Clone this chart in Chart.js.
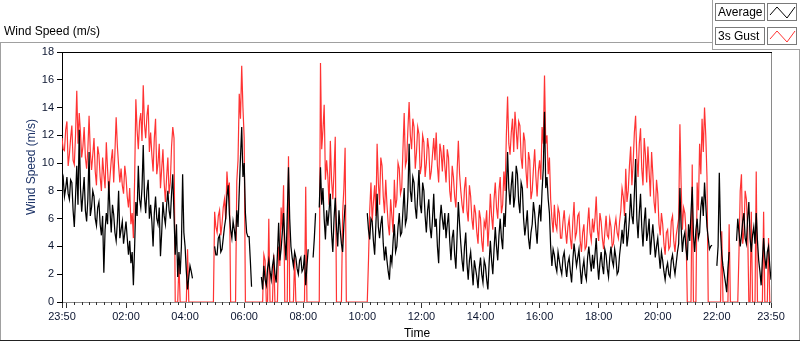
<!DOCTYPE html>
<html>
<head>
<meta charset="utf-8">
<script src="https://cdn.jsdelivr.net/npm/chart.js@4.4.0/dist/chart.umd.min.js"></script>
<style>
html, body { margin: 0; padding: 0; background: #fff; }
#wrap { position: relative; width: 800px; height: 342px; overflow: hidden; font-family: "Liberation Sans", Arial, sans-serif; color: #000; }
#chart { position: absolute; left: 0; top: 0; }
.line { position: absolute; background: #a0a0a0; }
#title { position: absolute; left: 4px; top: 24px; font-size: 12px; white-space: nowrap; }
#ytitle { position: absolute; left: 31px; top: 167px; font-size: 12px; white-space: nowrap; color: #1e3468;
  transform: translate(-50%, -50%) rotate(-90deg); }
#xtitle { position: absolute; left: 417px; top: 333px; font-size: 12px; transform: translate(-50%, -50%); }
.lgText { position: absolute; left: 715px; width: 46px; height: 16px; border: 1px solid #7a7a7a; font-size: 12px; line-height: 16px; padding-left: 2px; box-sizing: content-box; white-space: nowrap; }
.lgSym { position: absolute; left: 767px; width: 28px; height: 16px; border: 1px solid #7a7a7a; }
.lgSym svg { position: absolute; left: 0; top: 0; }
</style>
</head>
<body>
<div id="wrap">
  <canvas id="chart" width="800" height="342"></canvas>
  <div class="line" style="left:0;top:42px;width:712px;height:1px;"></div>
  <div class="line" style="left:0;top:42px;width:1px;height:298px;"></div>
  <div class="line" style="left:712px;top:0;width:1px;height:50px;"></div>
  <div class="line" style="left:712px;top:49px;width:88px;height:1px;"></div>
  <div class="line" style="left:799px;top:49px;width:1px;height:292px;"></div>
  <div class="line" style="left:0;top:340px;width:800px;height:1px;background:#222;"></div>
  <div id="title">Wind Speed (m/s)</div>
  <div id="ytitle">Wind Speed (m/s)</div>
  <div id="xtitle">Time</div>
  <div class="lgText" style="top:3px;">Average</div>
  <div class="lgSym" style="top:3px;"><svg width="28" height="16"><polyline points="2,11 9,3 19,14 27,3" fill="none" stroke="#000" stroke-width="1"/></svg></div>
  <div class="lgText" style="top:27px;">3s Gust</div>
  <div class="lgSym" style="top:27px;"><svg width="28" height="16"><polyline points="2,11 9,3 19,14 27,3" fill="none" stroke="#ff3333" stroke-width="1"/></svg></div>
</div>
<script>
// samples every 2.5 minutes, starting 23:50
const stepMinutes = 2.5;

// 3s gust (m/s), one row per hour from 23:50
const gust = [
  11.8, 11.0, 10.9, 12.4, 13.0, 9.8, 10.6, 11.8, 12.7, 10.2, 9.9, 12.0, 15.2, 11.4, 13.6, 12.2, 10.4, 11.2, 12.6, 10.4, 9.6, 11.0, 13.4, 10.8,
  9.5, 10.6, 11.8, 9.4, 8.4, 11.2, 10.6, 9.0, 8.0, 10.4, 9.2, 8.2, 11.5, 9.6, 7.8, 9.0, 10.2, 11.0, 8.6, 10.8, 13.3, 11.2, 9.8, 8.6,
  9.6, 8.4, 7.8, 9.8, 9.0, 7.6, 6.8, 8.2, 5.6, 6.4, 4.6, 8.8, 14.6, 12.4, 11.0, 13.0, 13.6, 11.6, 15.6, 12.8, 11.8, 13.4, 14.2, 10.8,
  12.2, 10.6, 9.4, 11.8, 13.2, 9.2, 10.0, 11.4, 8.2, 9.6, 11.0, 8.6, 7.2, 9.0, 10.4, 7.8, 8.6, 11.2, 12.6, 11.8, 0, 0, 0, 2.8,
  0, 0, 0, 0, 0, 0, 3.8, 0, 0, 0, 0, 0, 0, 0, 0, 0, 0, 0, 0, 0, 0, 0, 0, 0,
  0, 0, 0, 0, 6.5, 5.4, 5.0, 6.2, 6.6, 4.8, 5.6, 6.8, 7.4, 6.0, 9.4, 8.0, 8.6, 0, 0, 0, 0, 0, 8.7, 10.2,
  15.0, 13.2, 17.0, 14.0, 11.8, 0, 0, 0, 0, 0, 0, 0, 0, 0, 0, 0, 0, 0, 0, 0, 3.4, 3.0, 0, 0,
  6.0, 0, 0, 0, 3.4, 0, 0, 0, 4.0, 2.6, 6.8, 5.2, 8.4, 0, 0, 0, 10.5, 0, 0, 0, 0, 3.2, 0, 0,
  0, 0, 0, 0, 0, 0, 8.3, 0, 0, 0, 0, 0, 0, 0, 0, 0, 0, 0, 17.2, 11.0, 12.4, 14.2, 8.8, 10.2,
  9.0, 7.0, 11.6, 8.8, 7.4, 9.4, 11.9, 0, 0, 0, 0, 0, 6.4, 8.2, 11.1, 0, 0, 0, 0, 0, 0, 0, 0, 0,
  0, 0, 0, 0, 0, 0, 0, 0, 0, 3.0, 6.6, 8.6, 5.8, 7.2, 8.4, 6.2, 11.4, 8.6, 7.0, 10.4, 9.8, 7.6, 6.4, 8.8,
  7.0, 5.6, 4.8, 7.4, 6.2, 5.0, 8.8, 6.8, 7.4, 10.0, 9.6, 7.8, 8.2, 11.0, 13.6, 9.8, 10.2, 12.4, 14.4, 12.0, 11.0, 13.2, 12.6, 9.6,
  10.8, 12.6, 12.1, 9.2, 9.8, 12.0, 11.5, 9.0, 10.0, 11.8, 11.0, 8.8, 9.4, 10.6, 11.8, 10.2, 12.2, 9.8, 8.6, 11.4, 10.8, 9.4, 11.3, 9.8,
  8.6, 11.0, 10.4, 8.0, 7.2, 9.8, 9.0, 7.6, 6.8, 9.4, 11.6, 9.2, 8.0, 7.0, 6.4, 8.2, 9.0, 6.6, 5.8, 8.4, 7.6, 6.0, 5.2, 7.0,
  6.4, 5.0, 4.2, 6.6, 6.0, 4.4, 3.6, 5.8, 5.4, 6.6, 4.0, 5.6, 7.8, 6.2, 5.2, 7.4, 8.6, 6.8, 6.0, 8.0, 9.0, 6.4, 7.0, 9.4,
  8.0, 12.0, 14.8, 11.4, 10.6, 12.2, 13.2, 10.8, 13.7, 12.4, 11.0, 13.0, 12.7, 10.4, 9.6, 12.2, 11.6, 9.4, 8.2, 10.8, 10.2, 7.4, 8.0, 9.6,
  11.0, 9.0, 7.6, 9.4, 10.2, 8.8, 12.6, 11.4, 16.3, 11.4, 12.0, 9.2, 10.4, 7.4, 6.0, 5.0, 7.0, 5.6, 5.2, 6.8, 6.4, 4.6, 4.6, 5.8,
  6.6, 5.2, 4.2, 5.4, 6.0, 4.6, 3.8, 5.8, 7.2, 4.6, 5.0, 6.2, 6.4, 4.4, 3.6, 5.0, 5.6, 3.8, 4.0, 5.6, 6.8, 5.0, 4.4, 6.0,
  5.0, 6.0, 7.6, 5.2, 4.4, 6.4, 5.8, 4.6, 3.8, 5.0, 6.2, 4.8, 4.6, 6.0, 5.4, 4.0, 4.2, 5.4, 6.0, 5.0, 4.6, 5.8, 6.6, 8.2,
  7.6, 6.2, 9.6, 7.2, 8.0, 9.8, 11.2, 8.4, 10.0, 12.2, 13.4, 10.4, 9.0, 11.4, 12.5, 9.6, 8.4, 11.8, 10.6, 8.6, 11.2, 9.4, 7.6, 10.8,
  9.2, 7.2, 6.4, 8.8, 7.8, 5.6, 4.8, 6.4, 5.6, 4.2, 3.4, 5.0, 5.2, 3.8, 4.0, 5.8, 6.2, 4.4, 3.6, 4.8, 5.4, 6.0, 12.8, 8.4,
  5.2, 6.8, 6.4, 5.0, 0, 0, 0, 0, 9.9, 0, 0, 0, 8.6, 6.6, 11.4, 9.2, 13.2, 10.8, 14.0, 12.0, 9.0, 0, 0, 0,
  0, 0, 0, 0, 0, 0, 0, 0, 5.1, 0, 0, 0, 0, 0, 5.6, 0, 0, 0, 0, 0, 0, 0, 3.6, 8.0,
  9.2, 4.2, 5.0, 8.0, 7.4, 5.4, 0, 0, 6.5, 0, 0, 0, 9.4, 0, 0, 0, 0, 0, 6.5, 0, 0, 0, 4.6, 0,
  0
];

// average (m/s), null where no reading
const average = [
  8.4, 8.9, 7.6, 8.2, 9.0, 7.8, 7.4, 8.8, 8.6, 6.6, 5.4, 7.6, 9.8, 7.0, 12.4, 8.2, 6.5, 7.8, 9.0, 6.6, 5.8, 7.4, 10.8, 6.2,
  6.8, 8.0, 7.6, 6.0, 5.5, 6.8, 7.2, 5.6, 4.8, 6.2, 2.1, 5.2, 6.4, 5.6, 8.7, 6.6, 5.0, 7.0, 6.3, 5.0, 4.4, 5.8, 8.0, 4.6,
  5.2, 5.8, 4.2, 5.0, 5.8, 4.6, 3.4, 4.4, 2.8, 3.6, 1.2, 4.0, 7.2, 6.2, 9.8, 7.4, 6.8, 8.2, 11.3, 7.6, 6.4, 8.0, 8.8, 6.0,
  7.0, 5.8, 4.0, 6.4, 7.6, 6.0, 5.6, 6.8, 3.3, 5.0, 7.2, 6.2, 5.6, 7.0, 8.0, 6.6, 6.0, 7.8, 9.2, 6.2, 3.4, 5.6, 1.8, 3.6,
  2.0, 4.0, 9.2, 5.0, 4.0, 2.2, 0.9, 1.8, 2.6, 2.2, 1.7, null, null, null, null, null, null, null, null, null, null, null, null, null,
  null, null, null, null, 4.0, 3.4, 3.4, 4.6, 4.8, 3.6, 3.8, 4.6, 5.4, 6.0, 7.6, 8.4, 6.3, 5.2, 4.6, 5.8, 5.2, 4.4, 6.6, 5.4,
  8.0, 10.4, 12.6, 9.0, 10.0, 6.4, 5.0, 4.7, 4.7, 3.0, 1.1, null, null, null, null, null, null, null, 1.8, 0.9, 2.6, 1.6, 1.2, 2.4,
  3.0, 2.2, 1.6, 2.6, 3.2, 2.0, 1.4, 3.4, 5.7, 3.0, 3.8, 5.0, 6.4, 4.4, 3.0, 6.2, 9.7, 6.0, 4.0, 3.2, 2.6, 3.6, 3.2, 2.4,
  2.0, 3.0, 3.2, 2.2, 2.4, 3.4, 1.2, 2.6, 3.8, null, null, null, 3.2, 4.6, 6.4, null, null, 6.8, 9.7, 7.0, 8.2, 6.0, 4.5, 6.6,
  5.5, 6.6, 7.8, 5.0, 3.6, 6.0, 7.5, 5.4, 4.0, 6.6, 5.2, 4.2, 3.6, 5.6, 7.0, null, null, null, null, null, null, null, null, null,
  null, null, null, null, null, null, null, null, 6.4, 5.2, 4.5, 6.0, 5.8, 4.4, 3.4, 5.6, 7.8, 5.4, 4.6, 5.6, 6.2, 4.2, 3.0, 4.0,
  3.0, 2.2, 1.6, 3.4, 2.8, 4.4, 5.6, 3.6, 4.0, 5.4, 6.4, 4.8, 5.0, 6.6, 8.2, 5.6, 6.0, 7.6, 11.4, 8.0, 7.2, 9.0, 8.6, 6.8,
  6.0, 7.8, 9.5, 7.0, 6.4, 8.6, 8.0, 6.2, 5.0, 6.6, 7.4, 5.4, 4.6, 6.0, 7.8, 5.4, 6.0, 4.0, 2.8, 5.8, 7.0, 6.0, 5.2, 6.4,
  4.6, 5.6, 6.4, 4.4, 3.0, 4.6, 5.2, 3.4, 2.4, 4.8, 7.2, 5.6, 4.2, 3.0, 2.2, 4.0, 5.0, 2.8, 1.6, 3.0, 3.6, 2.4, 1.2, 3.0,
  2.4, 1.8, 1.0, 2.4, 3.2, 2.0, 1.4, 3.0, 2.6, 1.6, 0.9, 2.8, 4.4, 3.0, 2.0, 3.8, 5.4, 4.0, 3.0, 4.8, 6.0, 4.6, 3.8, 6.4,
  5.4, 8.0, 10.8, 8.2, 7.0, 8.4, 9.4, 6.8, 7.6, 9.8, 9.2, 7.2, 6.4, 8.6, 8.2, 6.0, 4.8, 5.6, 6.6, 4.6, 3.8, 5.0, 5.6, 7.2,
  6.4, 5.2, 4.2, 6.0, 7.0, 5.8, 8.0, 9.6, 13.7, 8.2, 9.0, 7.4, 6.4, 4.0, 2.6, 3.8, 3.4, 2.6, 2.2, 3.6, 3.0, 2.4, 2.0, 3.2,
  3.6, 2.6, 1.8, 2.8, 3.2, 2.2, 1.4, 3.0, 4.2, 3.4, 2.6, 3.2, 3.8, 2.4, 1.3, 2.4, 3.0, 2.0, 1.6, 3.2, 4.0, 3.0, 2.2, 3.4,
  2.4, 3.4, 4.6, 2.8, 1.6, 2.8, 3.6, 2.6, 2.0, 3.8, 3.4, 2.4, 1.8, 3.2, 4.0, 3.0, 2.6, 3.8, 3.2, 2.0, 2.2, 3.4, 4.2, 5.2,
  4.2, 5.6, 6.4, 4.0, 4.8, 6.0, 7.8, 6.2, 5.6, 7.8, 10.3, 6.0, 4.6, 6.4, 7.8, 5.4, 4.0, 5.8, 6.8, 4.4, 5.0, 6.0, 3.4, 4.6,
  5.6, 4.4, 3.2, 4.0, 4.6, 3.4, 2.4, 3.6, 3.0, 2.2, 1.6, 2.4, 2.8, 2.0, 1.8, 3.0, 3.4, 2.6, 2.0, 2.8, 3.6, 4.2, 8.2, 5.4,
  3.6, 4.6, 5.0, 3.8, 3.0, 5.6, 4.4, 6.4, 8.3, 4.8, 3.6, 5.2, 6.0, 4.6, 5.0, 6.8, 7.6, 6.2, 8.6, 7.0, 5.4, 4.6, 3.8, 4.0,
  4.1, null, null, null, 2.6, 4.0, 9.3, 5.0, 3.4, 2.6, 2.0, 1.4, 0.7, 2.4, 3.6, null, null, null, null, null, 4.4, 6.0, 5.0, 4.0,
  4.8, 5.8, 6.4, 4.6, 4.2, 6.0, 7.2, 4.6, 3.6, 4.8, 5.4, 4.2, 6.4, 4.4, 3.0, 2.2, 1.2, 3.0, 4.6, 3.2, 2.4, 3.6, 4.0, 2.6,
  1.6
];

// time axis: minutes after 23:50
const xMajorTicks = [0, 10, 130, 250, 370, 490, 610, 730, 850, 970, 1090, 1210, 1330, 1440];
const xMajorLabels = ['23:50', '', '02:00', '04:00', '06:00', '08:00', '10:00', '12:00', '14:00', '16:00', '18:00', '20:00', '22:00', '23:50'];
const yTicks = [0, 2, 4, 6, 8, 10, 12, 14, 16, 18];

const xMinorTicks = [];
for (let m = 10; m < 1440; m += 15) xMinorTicks.push(m);

const toPoints = arr => arr.map((v, i) => ({ x: i * stepMinutes, y: v }));

const frameAndMinor = {
  id: 'frameAndMinor',
  afterDraw(chart) {
    const { ctx, chartArea: a } = chart;
    const x = chart.scales.x;
    ctx.save();
    ctx.lineWidth = 1;
    ctx.strokeStyle = '#333';
    ctx.beginPath();
    xMinorTicks.forEach(v => {
      if (xMajorTicks.includes(v)) return;
      const px = Math.round(x.getPixelForValue(v)) + 0.5;
      ctx.moveTo(px, a.bottom);
      ctx.lineTo(px, a.bottom + 3);
    });
    ctx.stroke();
    ctx.strokeStyle = '#000';
    ctx.beginPath();
    ctx.moveTo(a.left, a.top + 0.5);
    ctx.lineTo(a.right + 1, a.top + 0.5);
    ctx.stroke();
    ctx.strokeStyle = '#8a8a8a';
    ctx.beginPath();
    ctx.moveTo(a.right + 0.5, a.top + 1);
    ctx.lineTo(a.right + 0.5, a.bottom);
    ctx.stroke();
    ctx.restore();
  }
};

new Chart(document.getElementById('chart'), {
  type: 'line',
  data: {
    datasets: [
      { label: 'Average', data: toPoints(average), borderColor: '#000', borderWidth: 1.25, pointRadius: 0, tension: 0, spanGaps: false },
      { label: '3s Gust', data: toPoints(gust), borderColor: '#ff3333', borderWidth: 1.2, pointRadius: 0, tension: 0, spanGaps: false }
    ]
  },
  options: {
    responsive: false,
    animation: false,
    events: [],
    layout: { padding: { top: 52, right: 29, left: 0, bottom: 0 } },
    plugins: { legend: { display: false }, tooltip: { enabled: false } },
    scales: {
      x: {
        type: 'linear', min: 0, max: 1440,
        afterFit: s => { s.height = 40; },
        afterBuildTicks: s => { s.ticks = xMajorTicks.map(v => ({ value: v })); },
        ticks: {
          autoSkip: false, maxRotation: 0, padding: 2,
          font: { family: '"Liberation Sans", Arial, sans-serif', size: 11 }, color: '#0b1530',
          callback: v => xMajorLabels[xMajorTicks.indexOf(v)]
        },
        grid: { drawOnChartArea: false, tickLength: 6, color: '#333' },
        border: { display: true, color: '#8a8a8a' }
      },
      y: {
        min: 0, max: 18,
        afterFit: s => { s.width = 62; },
        afterBuildTicks: s => { s.ticks = yTicks.map(v => ({ value: v })); },
        ticks: {
          padding: 3,
          font: { family: '"Liberation Sans", Arial, sans-serif', size: 11 }, color: '#0b1530'
        },
        grid: { drawOnChartArea: false, tickLength: 5, color: '#000' },
        border: { display: true, color: '#000' }
      }
    }
  },
  plugins: [frameAndMinor]
});
</script>
</body>
</html>
